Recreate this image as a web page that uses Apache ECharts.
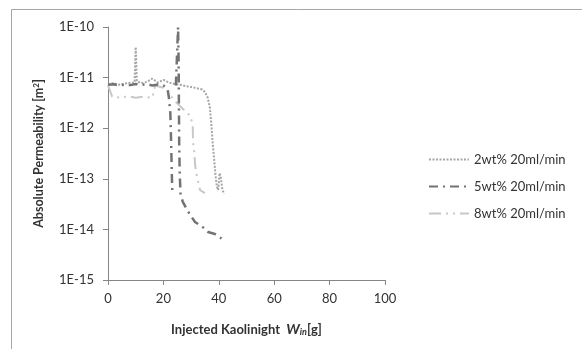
<!DOCTYPE html>
<html>
<head>
<meta charset="utf-8">
<script src="https://cdn.jsdelivr.net/npm/echarts@6/dist/echarts.min.js"></script>
<style>
  html, body { margin: 0; padding: 0; background: #fff; }
  #chart { width: 582px; height: 349px; }
</style>
</head>
<body>
<div id="chart"></div>
<script>
// series names
const seriesNames = ['2wt% 20ml/min', '5wt% 20ml/min', '8wt% 20ml/min']

// 2wt% : injected mass [g] and permeability [m2]
const w2 = [0, 2, 4, 6, 8, 9.6, 10, 10.4, 12, 14, 16, 18, 20, 22, 24, 26, 28, 30, 32, 34, 35, 36, 36.8, 37.3, 37.8, 38.3, 38.8, 39.3, 39.8, 40.3, 40.8, 41.3, 42]
const k2 = [7.5e-12, 7.8e-12, 7.2e-12, 7.6e-12, 7.9e-12, 8e-12, 4e-11, 8.5e-12, 7.8e-12, 8.2e-12, 9.5e-12, 8e-12, 9e-12, 8e-12, 7.5e-12, 7.2e-12, 6.8e-12, 6.5e-12, 6.2e-12, 5.8e-12, 5.2e-12, 4e-12, 2.5e-12, 1.2e-12, 5e-13, 2.5e-13, 1.2e-13, 7e-14, 6e-14, 1.3e-13, 1e-13, 6e-14, 5e-14]

// 5wt% (null = gap in the record)
const w5 = [0, 2, 4, 6, 8, 10, 12, 14, 16, 18, 20, 21.5, 22, 22.5, 22.8, 23, 23.2, 23.4, 24.5, 25.3, 25.5, 25.6, 25.7, 25.9, 26.2, 27, 28.8, 31.4, 34.3, 36.1, 38.6, 41]
const k5 = [7.2e-12, 7.4e-12, 7e-12, 7.3e-12, 7.1e-12, 7.5e-12, 7.2e-12, 7.4e-12, 7e-12, 7.3e-12, 7e-12, 6e-12, 4e-12, 2e-12, 5e-13, 1.5e-13, 6e-14, null, 7e-12, 1e-10, 2e-11, 3e-12, 5e-13, 1.2e-13, 5e-14, 3.5e-14, 2.3e-14, 1.4e-14, 1.1e-14, 8.9e-15, 8.1e-15, 6.6e-15]

// 8wt%
const w8 = [0, 1.5, 5, 7, 10, 13, 16, 17, 20.6, 24, 27.8, 29.9, 30.6, 30.7, 31.2, 31.4, 31.8, 33.2, 35]
const k8 = [7e-12, 4.2e-12, 4e-12, 4.3e-12, 4e-12, 4.2e-12, 4e-12, 7e-12, 6.2e-12, 3.5e-12, 2.2e-12, 1.7e-12, 1.05e-12, 5.1e-13, 3.2e-13, 2e-13, 1.35e-13, 6e-14, 5.2e-14]

// y tick labels, 1E-15 .. 1E-10
const yTickLabels = ['1E-15', '1E-14', '1E-13', '1E-12', '1E-11', '1E-10']

const pairs = (xs, ys) => xs.map((x, i) => [x, ys[i]])

const font = 'Lato, "Open Sans", sans-serif'
const axisColor = '#868686'

const chart = echarts.init(document.getElementById('chart'), null, { renderer: 'canvas' })

const option = {
	backgroundColor: '#fff',
	animation: false,
	graphic: [
		{
			type: 'rect',
			shape: { x: 11.5, y: 9.5, width: 620, height: 400 },
			style: { fill: 'none', stroke: '#a6a6a6', lineWidth: 1 },
			silent: true,
		},
	],
	grid: { left: 108, right: 197, top: 27, bottom: 69 },
	legend: {
		orient: 'vertical',
		left: 423,
		top: 148,
		itemWidth: 40,
		itemHeight: 14,
		itemGap: 14,
		itemStyle: { opacity: 0 },
		textStyle: { fontFamily: font, fontSize: 13, color: '#333' },
		data: seriesNames,
	},
	xAxis: {
		type: 'value',
		min: 0,
		max: 100,
		interval: 20,
		splitLine: { show: false },
		axisLine: { lineStyle: { color: axisColor } },
		axisTick: { length: 5, lineStyle: { color: axisColor } },
		axisLabel: { fontFamily: font, fontSize: 13, color: '#333', margin: 12 },
		name: '{b|Injected Kaolinight  }{w|W}{s|in}{b|[g]}',
		nameLocation: 'middle',
		nameGap: 42,
		nameTextStyle: {
			rich: {
				b: { fontFamily: font, fontSize: 13, fontWeight: 'bold', color: '#333' },
				w: { fontFamily: font, fontSize: 14, fontWeight: 'bold', fontStyle: 'italic', color: '#333' },
				s: { fontFamily: font, fontSize: 9, fontWeight: 'bold', fontStyle: 'italic', color: '#333', verticalAlign: 'bottom', padding: [6, 0, 0, 0] },
			},
		},
	},
	yAxis: {
		type: 'log',
		logBase: 10,
		min: 1e-15,
		max: 1e-10,
		splitLine: { show: false },
		minorTick: { show: false },
		axisLine: { show: true, lineStyle: { color: axisColor } },
		axisTick: { show: true, length: 5, lineStyle: { color: axisColor } },
		axisLabel: {
			fontFamily: font,
			fontSize: 13,
			color: '#333',
			margin: 14,
			formatter: (v) => yTickLabels[Math.round(Math.log10(v)) + 15],
		},
		name: '{b|Absolute Permeability [m}{sup|2}{b|]}',
		nameLocation: 'middle',
		nameGap: 62,
		nameTextStyle: {
			rich: {
				b: { fontFamily: font, fontSize: 12.5, fontWeight: 'bold', color: '#333' },
				sup: { fontFamily: font, fontSize: 8, fontWeight: 'bold', color: '#333', verticalAlign: 'top', padding: [0, 0, 6, 0] },
			},
		},
	},
	series: [
		{
			name: seriesNames[0],
			type: 'line',
			symbol: 'none',
			data: pairs(w2, k2),
			lineStyle: { color: '#a6a6a6', width: 2, type: [2, 1.5] },
			itemStyle: { color: '#a6a6a6' },
			z: 3,
		},
		{
			name: seriesNames[1],
			type: 'line',
			symbol: 'none',
			connectNulls: false,
			data: pairs(w5, k5),
			lineStyle: { color: '#737373', width: 2.5, type: [9, 5, 2, 5] },
			itemStyle: { color: '#737373' },
			z: 4,
		},
		{
			name: seriesNames[2],
			type: 'line',
			symbol: 'none',
			data: pairs(w8, k8),
			lineStyle: { color: '#c8c8c8', width: 2, type: [12, 5, 2, 5, 2, 5] },
			itemStyle: { color: '#c8c8c8' },
			z: 2,
		},
	],
}

chart.setOption(option)
</script>
</body>
</html>
